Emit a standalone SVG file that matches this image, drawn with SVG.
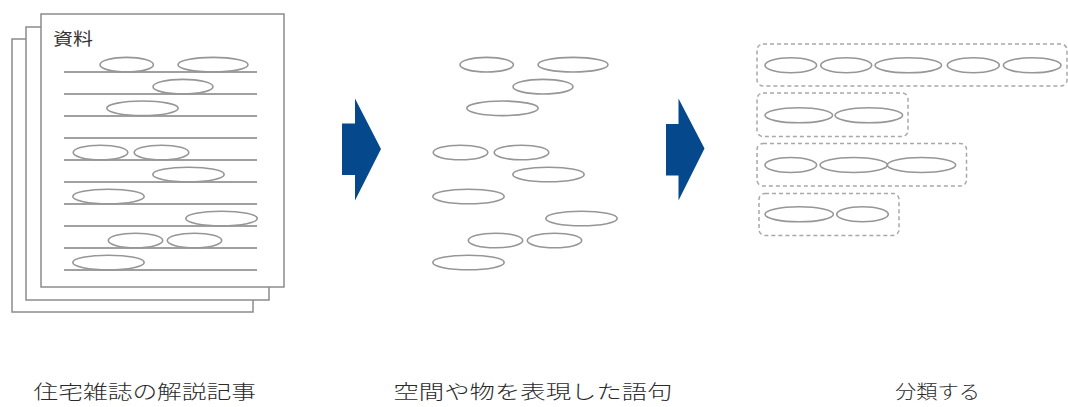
<svg xmlns="http://www.w3.org/2000/svg" width="1068" height="407" viewBox="0 0 1068 407">
<style>
.page{fill:#fff;stroke:#8c8c8c;stroke-width:1.5}
.rule{stroke:#808080;stroke-width:1.6}
.ov{fill:none;stroke:#969696;stroke-width:1.6}
.grp{fill:none;stroke:#a8a8a8;stroke-width:1.5;stroke-dasharray:4 3}
.arr{fill:#05498c}
.cap{font-family:"Noto Sans CJK JP","Noto Sans CJK SC",sans-serif;font-size:19px;font-weight:300;fill:#2a2a2a}
.lbl{font-family:"Noto Sans CJK JP","Noto Sans CJK SC",sans-serif;font-size:17px;fill:#333}
</style>
<rect width="1068" height="407" fill="#fff"/>
<g id="documents">
<rect class="page" x="12" y="39" width="241" height="273"/>
<rect class="page" x="26" y="27" width="243" height="273"/>
<rect class="page" x="41" y="14" width="243" height="273"/>
<text class="lbl" x="53" y="44.5" textLength="40" lengthAdjust="spacingAndGlyphs">資料</text>
<g>
<line class="rule" x1="64" y1="72" x2="257" y2="72"/>
<line class="rule" x1="64" y1="94" x2="257" y2="94"/>
<line class="rule" x1="64" y1="116" x2="257" y2="116"/>
<line class="rule" x1="64" y1="138" x2="257" y2="138"/>
<line class="rule" x1="64" y1="160" x2="257" y2="160"/>
<line class="rule" x1="64" y1="182" x2="257" y2="182"/>
<line class="rule" x1="64" y1="204" x2="257" y2="204"/>
<line class="rule" x1="64" y1="226" x2="257" y2="226"/>
<line class="rule" x1="64" y1="248" x2="257" y2="248"/>
<line class="rule" x1="64" y1="270" x2="257" y2="270"/>
</g>
<g>
<ellipse class="ov" cx="126.7" cy="64.7" rx="26.7" ry="7.3"/>
<ellipse class="ov" cx="213" cy="64.7" rx="35" ry="7.3"/>
<ellipse class="ov" cx="183" cy="86.7" rx="30" ry="7.3"/>
<ellipse class="ov" cx="142.5" cy="108.3" rx="35.7" ry="7.3"/>
<ellipse class="ov" cx="100.5" cy="152.5" rx="27.3" ry="7.3"/>
<ellipse class="ov" cx="161.5" cy="152.5" rx="27.3" ry="7.3"/>
<ellipse class="ov" cx="188.5" cy="174.5" rx="35.7" ry="7.3"/>
<ellipse class="ov" cx="108.5" cy="196.5" rx="35.7" ry="7.3"/>
<ellipse class="ov" cx="221.5" cy="218.5" rx="35.7" ry="7.3"/>
<ellipse class="ov" cx="135.5" cy="240.5" rx="27.2" ry="7.3"/>
<ellipse class="ov" cx="194.5" cy="240.5" rx="27.2" ry="7.3"/>
<ellipse class="ov" cx="108.5" cy="262.5" rx="35.7" ry="7.3"/>
</g>
</g>
<g id="phrases">
<ellipse class="ov" cx="486.7" cy="64.7" rx="26.7" ry="7.3"/>
<ellipse class="ov" cx="573" cy="64.7" rx="35" ry="7.3"/>
<ellipse class="ov" cx="543" cy="86.7" rx="30" ry="7.3"/>
<ellipse class="ov" cx="502.5" cy="108.3" rx="35.7" ry="7.3"/>
<ellipse class="ov" cx="460.5" cy="152.5" rx="27.3" ry="7.3"/>
<ellipse class="ov" cx="521.5" cy="152.5" rx="27.3" ry="7.3"/>
<ellipse class="ov" cx="548.5" cy="174.5" rx="35.7" ry="7.3"/>
<ellipse class="ov" cx="468.5" cy="196.5" rx="35.7" ry="7.3"/>
<ellipse class="ov" cx="581.5" cy="218.5" rx="35.7" ry="7.3"/>
<ellipse class="ov" cx="495.5" cy="240.5" rx="27.2" ry="7.3"/>
<ellipse class="ov" cx="554.5" cy="240.5" rx="27.2" ry="7.3"/>
<ellipse class="ov" cx="468.5" cy="262.5" rx="35.7" ry="7.3"/>
</g>
<g id="groups">
<rect class="grp" x="757" y="44" width="310" height="42" rx="6"/>
<rect class="grp" x="757" y="93" width="151" height="43.5" rx="6"/>
<rect class="grp" x="757" y="143.5" width="209.5" height="42.5" rx="6"/>
<rect class="grp" x="759" y="193.5" width="140" height="42" rx="6"/>
<ellipse class="ov" cx="790.8" cy="65.3" rx="25.8" ry="7.5"/>
<ellipse class="ov" cx="846.2" cy="65.3" rx="25.5" ry="7.5"/>
<ellipse class="ov" cx="908.3" cy="65.3" rx="33.3" ry="7.5"/>
<ellipse class="ov" cx="973.3" cy="65.3" rx="26" ry="7.5"/>
<ellipse class="ov" cx="1032.2" cy="65.3" rx="28.8" ry="7.5"/>
<ellipse class="ov" cx="798.8" cy="115.3" rx="33.8" ry="7.5"/>
<ellipse class="ov" cx="868.8" cy="115.3" rx="33.8" ry="7.5"/>
<ellipse class="ov" cx="790.8" cy="165" rx="25.8" ry="7.5"/>
<ellipse class="ov" cx="853.7" cy="165" rx="33.7" ry="7.5"/>
<ellipse class="ov" cx="921.5" cy="165" rx="34.2" ry="7.5"/>
<ellipse class="ov" cx="799.2" cy="214.3" rx="34.2" ry="7.5"/>
<ellipse class="ov" cx="862.5" cy="214.3" rx="25.8" ry="7.5"/>
</g>
<g id="connectors">
<polygon class="arr" points="342,123.5 355,123.5 355,98.5 381,149 355,200.5 355,175 342,175"/>
<polygon class="arr" points="666,124 678.5,124 678.5,98.5 704.5,148.5 678.5,200.5 678.5,175.5 666,175.5"/>
</g>
<g id="captions">
<text class="cap" x="33.5" y="398.5" textLength="222.5" lengthAdjust="spacingAndGlyphs">住宅雑誌の解説記事</text>
<text class="cap" x="393.5" y="398.5" textLength="279" lengthAdjust="spacingAndGlyphs">空間や物を表現した語句</text>
<text class="cap" x="895" y="398.5" textLength="85" lengthAdjust="spacingAndGlyphs">分類する</text>
</g>
</svg>
